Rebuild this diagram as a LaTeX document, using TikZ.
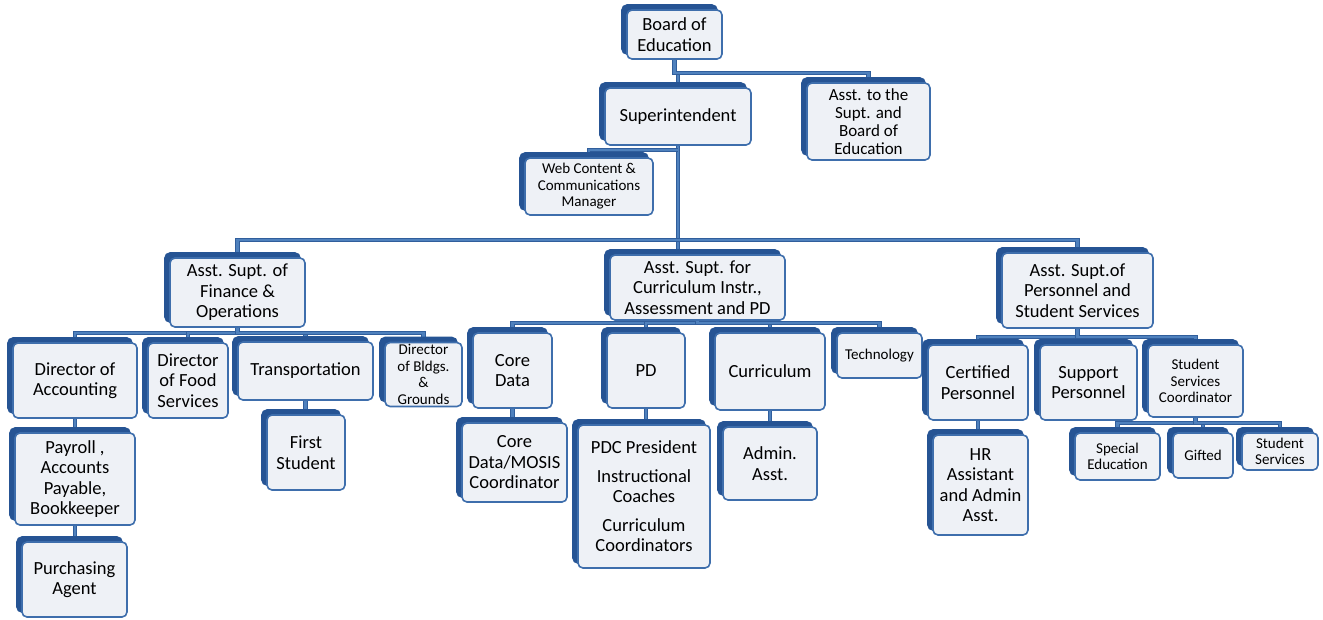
\documentclass[tikz,border=0pt]{standalone}
\usepackage{fontspec}
\setmainfont{Carlito}
\usepackage{tikz}
\usetikzlibrary{shadows,backgrounds}
\definecolor{boxblue}{RGB}{62,110,172}
\definecolor{boxdark}{RGB}{38,84,148}
\definecolor{boxfill}{RGB}{238,241,246}
\definecolor{connblue}{RGB}{79,129,189}
\definecolor{conndark}{RGB}{48,94,156}
\tikzstyle{orgbox} = [draw=boxblue, fill=boxfill, line width=1.6pt, rectangle, rounded corners=5pt, align=center, inner sep=2pt, general shadow={fill=boxdark, draw=boxdark, shadow xshift=-5pt, shadow yshift=5pt}]
\tikzstyle{bigtxt} = [font=\fontsize{18.5}{20.5}\selectfont]
\tikzstyle{midtxt} = [font=\fontsize{17}{18}\selectfont]
\tikzstyle{smalltxt} = [font=\fontsize{15}{16.5}\selectfont]
\tikzstyle{conn} = [draw=conndark, line width=0.8pt, double=connblue, double distance=2.6pt]
\tikzset{sz/.style 2 args={minimum width=#1pt, minimum height=#2pt}}

\begin{document}
\begin{tikzpicture}[x=1pt, y=-1pt]
\useasboundingbox (0,0) rectangle (1323,619);

% top levels
\node[orgbox, bigtxt, sz={95}{49}] (board) at (674.5,34.5) {Board of\\Education};
\node[orgbox, bigtxt, sz={146}{57}] (supt) at (678,116.5) {Superintendent};
\node[orgbox, midtxt, sz={123}{77}] (assttosupt) at (868.5,121.5) {Asst. to the\\Supt. and\\Board of\\Education};
\node[orgbox, smalltxt, sz={128}{57}] (web) at (589,186.5) {Web Content \&\\Communications\\Manager};

% assistant superintendents
\node[orgbox, bigtxt, sz={135}{69}] (finance) at (237.5,292.5) {Asst. Supt. of\\Finance \&\\Operations};
\node[orgbox, bigtxt, sz={175}{65}] (curric) at (697.5,287.5) {Asst. Supt. for\\Curriculum Instr.,\\Assessment and PD};
\node[orgbox, bigtxt, sz={151}{75}] (personnel) at (1077.5,290.5) {Asst. Supt.of\\Personnel and\\Student Services};

% finance branch
\node[orgbox, bigtxt, sz={124}{75}] (diracc) at (75,380.5) {Director of\\Accounting};
\node[orgbox, bigtxt, sz={80}{75}] (food) at (188,380.5) {Director\\of Food\\Services};
\node[orgbox, bigtxt, sz={135}{58}] (transport) at (305.5,371) {Transportation};
\node[orgbox, smalltxt, sz={77}{63}] (bldgs) at (423.5,374.5) {Director\\of Bldgs.\\\&\\Grounds};
\node[orgbox, bigtxt, sz={120}{92}] (payroll) at (75,479) {Payroll ,\\Accounts\\Payable,\\Bookkeeper};
\node[orgbox, bigtxt, sz={105}{75}] (purchasing) at (74.5,579.5) {Purchasing\\Agent};
\node[orgbox, bigtxt, sz={78}{75}] (firststudent) at (306,452.5) {First\\Student};

% curriculum branch
\node[orgbox, bigtxt, sz={79}{75}] (coredata) at (512.5,370.5) {Core\\Data};
\node[orgbox, bigtxt, sz={78}{75}] (pd) at (646,370.5) {PD};
\node[orgbox, bigtxt, sz={110}{77}] (curriculum) at (770,371.5) {Curriculum};
\node[orgbox, smalltxt, sz={85}{45}] (technology) at (879.5,355.5) {Technology};
\node[orgbox, bigtxt, sz={105}{79}] (coremosis) at (514.5,462.5) {Core\\Data/MOSIS\\Coordinator};
\node[orgbox, bigtxt, sz={132}{143}] (pdc) at (644,496.5) {PDC President\\[8pt]Instructional\\Coaches\\[8pt]Curriculum\\Coordinators};
\node[orgbox, bigtxt, sz={94}{73}] (adminasst) at (770,463.5) {Admin.\\Asst.};

% personnel branch
\node[orgbox, bigtxt, sz={100}{75}] (certified) at (978,382.5) {Certified\\Personnel};
\node[orgbox, bigtxt, sz={97}{75}] (support) at (1088.5,382.5) {Support\\Personnel};
\node[orgbox, smalltxt, sz={95}{72}] (ssc) at (1195.5,381) {Student\\Services\\Coordinator};
\node[orgbox, bigtxt, sz={95}{100}] (hr) at (980.5,485) {HR\\Assistant\\and Admin\\Asst.};
\node[orgbox, smalltxt, sz={85}{47}] (spec) at (1117.5,456.5) {Special\\Education};
\node[orgbox, smalltxt, sz={60}{45}] (gifted) at (1203,455.5) {Gifted};
\node[orgbox, smalltxt, sz={76}{37}] (studserv) at (1280,451.5) {Student\\Services};

% bus levels
\coordinate (topbus) at (670,73);
\coordinate (webtap) at (673,150);
\coordinate (midbus) at (673,240);
\coordinate (fbus) at (232,333);
\coordinate (cbus) at (672,323);
\coordinate (pbus) at (1077,337);
\coordinate (sbus) at (1190,423);

\begin{scope}[on background layer]
\foreach \c in {supt,assttosupt}
  \draw[conn] (board.south) |- (topbus -| \c.north) -- (\c.north);
\draw[conn] (supt.south) -- (supt.south |- curric.north);
\draw[conn] (supt.south |- webtap) -| (web.north);
\foreach \c in {finance,personnel}
  \draw[conn] (supt.south |- midbus) -| (\c.north);
\foreach \c in {diracc,food,transport,bldgs}
  \draw[conn] (finance.south) |- (fbus -| \c.north) -- (\c.north);
\foreach \c in {coredata,pd,curriculum,technology}
  \draw[conn] (curric.south) |- (cbus -| \c.north) -- (\c.north);
\foreach \c in {certified,support,ssc}
  \draw[conn] (personnel.south) |- (pbus -| \c.north) -- (\c.north);
\foreach \c in {spec,gifted,studserv}
  \draw[conn] (ssc.south) |- (sbus -| \c.north) -- (\c.north);
\draw[conn] (diracc.south) -- (diracc.south |- payroll.north);
\draw[conn] (payroll.south) -- (payroll.south |- purchasing.north);
\draw[conn] (transport.south) -- (transport.south |- firststudent.north);
\draw[conn] (coredata.south) -- (coredata.south |- coremosis.north);
\draw[conn] (pd.south) -- (pd.south |- pdc.north);
\draw[conn] (curriculum.south) -- (curriculum.south |- adminasst.north);
\draw[conn] (certified.south) -- (certified.south |- hr.north);
\end{scope}
\end{tikzpicture}
\end{document}
